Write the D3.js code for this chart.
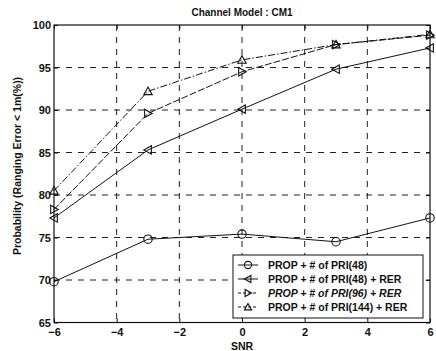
<!DOCTYPE html>
<html><head><meta charset="utf-8">
<script src="https://cdn.jsdelivr.net/npm/d3@7"></script>
<style>body{margin:0;background:#fff}text{font-family:"Liberation Sans",Arial,sans-serif;font-weight:bold;fill:#111}</style>
</head><body><svg id="c" width="436" height="351"></svg>
<script>
const snr = [-6, -3, 0, 3, 6];
const s1 = [69.8, 74.8, 75.4, 74.5, 77.3];
const s2 = [77.3, 85.3, 90.1, 94.8, 97.3];
const s3 = [78.3, 89.6, 94.5, 97.7, 98.8];
const s4 = [80.5, 92.2, 95.9, 97.7, 98.9];
const xTicks = [-6, -4, -2, 0, 2, 4, 6];
const yTicks = [65, 70, 75, 80, 85, 90, 95, 100];
const names = ["PROP + # of PRI(48)", "PROP + # of PRI(48) + RER", "PROP + # of PRI(96) + RER", "PROP + # of PRI(144) + RER"];
const series = [s1, s2, s3, s4];
const markers = ["circle", "left", "right", "up"];
const dashes = [null, null, "7,2", "7,2,1.5,2"];

const svg = d3.select("#c");
const L = 54, R = 430, T = 25, B = 322.5;
const x = d3.scaleLinear().domain([-6, 6]).range([L, R]);
const y = d3.scaleLinear().domain([65, 100]).range([B, T]);

const g = svg.append("g");
g.selectAll(".gx").data(xTicks.slice(1, -1)).join("line")
  .attr("x1", d => x(d)).attr("x2", d => x(d)).attr("y1", T).attr("y2", B)
  .attr("stroke", "#222").attr("stroke-width", 1).attr("stroke-dasharray", "6,6");
g.selectAll(".gy").data(yTicks.slice(1, -1)).join("line")
  .attr("y1", d => y(d)).attr("y2", d => y(d)).attr("x1", L).attr("x2", R)
  .attr("stroke", "#222").attr("stroke-width", 1).attr("stroke-dasharray", "6,6");

const ax = svg.append("g").attr("transform", `translate(0,${B})`)
  .call(d3.axisBottom(x).tickValues(xTicks).tickSize(-4).tickPadding(6).tickFormat(d3.format("d")));
const ay = svg.append("g").attr("transform", `translate(${L},0)`)
  .call(d3.axisLeft(y).tickValues(yTicks).tickSize(-4).tickPadding(3));
[ax, ay].forEach(a => { a.select(".domain").remove(); a.selectAll("line").attr("stroke", "#111");
  a.selectAll("text").style("font-size", "11px").style("font-weight", "bold").attr("fill", "#111"); });
svg.append("g").attr("transform", `translate(0,${T})`)
  .call(d3.axisTop(x).tickValues(xTicks).tickSize(-4).tickFormat(""))
  .call(a => { a.select(".domain").remove(); a.selectAll("line").attr("stroke", "#111"); });
svg.append("g").attr("transform", `translate(${R},0)`)
  .call(d3.axisRight(y).tickValues(yTicks).tickSize(-4).tickFormat(""))
  .call(a => { a.select(".domain").remove(); a.selectAll("line").attr("stroke", "#111"); });
svg.append("rect").attr("x", L).attr("y", T).attr("width", R - L).attr("height", B - T)
  .attr("fill", "none").attr("stroke", "#111").attr("stroke-width", 1.2);

function marker(sel, type, r) {
  if (type === "circle") {
    sel.append("circle").attr("r", r).attr("fill", "none").attr("stroke", "#111").attr("stroke-width", 1.1);
  } else {
    let pts;
    if (type === "up") pts = [[0, -r], [r, r * 0.8], [-r, r * 0.8]];
    if (type === "left") pts = [[-r, 0], [r * 0.8, -r], [r * 0.8, r]];
    if (type === "right") pts = [[r, 0], [-r * 0.8, -r], [-r * 0.8, r]];
    sel.append("polygon").attr("points", pts.map(p => p.join(",")).join(" "))
      .attr("fill", "none").attr("stroke", "#111").attr("stroke-width", 1.1);
  }
}

const line = d3.line().x((d, i) => x(snr[i])).y(d => y(d));
series.forEach((s, k) => {
  svg.append("path").attr("d", line(s)).attr("fill", "none").attr("stroke", "#111")
    .attr("stroke-width", 1).attr("stroke-dasharray", dashes[k]);
  s.forEach((v, i) => {
    const m = svg.append("g").attr("transform", `translate(${x(snr[i])},${y(v)})`);
    marker(m, markers[k], 4.2);
  });
});

const lg = svg.append("g");
lg.append("rect").attr("x", 233).attr("y", 255).attr("width", 190).attr("height", 63)
  .attr("fill", "#fff").attr("stroke", "#111").attr("stroke-width", 1);
names.forEach((n, k) => {
  const yy = 265 + k * 14;
  lg.append("line").attr("x1", 238).attr("x2", 258).attr("y1", yy).attr("y2", yy)
    .attr("stroke", "#111").attr("stroke-width", 1).attr("stroke-dasharray", dashes[k] ? "3,2" : null);
  const m = lg.append("g").attr("transform", `translate(248,${yy})`);
  marker(m, markers[k], 3.6);
  lg.append("text").attr("x", 268).attr("y", yy + 4).text(n)
    .style("font-size", "10.5px").style("font-style", k === 2 ? "italic" : "normal");
});

svg.append("text").attr("x", 242).attr("y", 16).attr("text-anchor", "middle").style("font-size", "10px").text("Channel Model : CM1");
svg.append("text").attr("x", 242).attr("y", 350).attr("text-anchor", "middle").style("font-size", "10.5px").text("SNR");
svg.append("text").attr("transform", `translate(21,166) rotate(-90)`).attr("text-anchor", "middle")
  .style("font-size", "10.5px").text("Probability (Ranging Error < 1m(%))");
</script></body></html>
